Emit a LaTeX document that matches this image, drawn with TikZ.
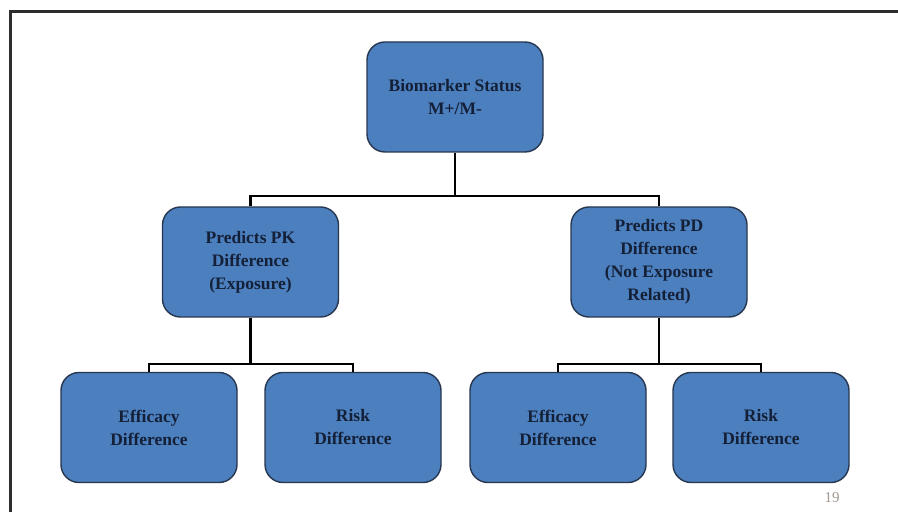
\documentclass[tikz,border=0pt]{standalone}
\usepackage{fontspec}
\setmainfont{Liberation Serif}
\usetikzlibrary{calc}
\definecolor{boxfill}{RGB}{76,127,190}
\definecolor{boxline}{RGB}{40,55,80}
\definecolor{boxtext}{RGB}{20,32,55}
\definecolor{framegray}{RGB}{45,45,45}
\definecolor{pagegray}{RGB}{160,152,145}
\def\BoxWidth{176}
\def\BoxHeight{110}
\def\TopRow{415}
\def\MidRow{250}
\def\LowRow{84.5}
\def\Drop{43}

\begin{document}
\begin{tikzpicture}[x=1pt,y=1pt,
    statbox/.style={draw=boxline, line width=1.4pt, fill=boxfill,
      rounded corners=18pt, minimum width=\BoxWidth pt, minimum height=\BoxHeight pt,
      align=center, text=boxtext, font=\bfseries\fontsize{17.5}{23}\selectfont},
    branch/.style={line width=2.2pt, black}]
  \useasboundingbox (0,0) rectangle (898,512);
  \fill [white] (0,0) rectangle (898,512);
  % frame
  \coordinate (frameB) at (10,0);
  \coordinate (frameC) at (10,500);
  \coordinate (frameR) at (898,500);
  \draw [line width=3pt, framegray] (frameB) -- (frameC) -- (frameR);
  % boxes
  \node[statbox] (status) at (455,\TopRow) {Biomarker Status\\M+/M-};
  \node[statbox] (pk) at (250.5,\MidRow) {Predicts PK\\Difference\\(Exposure)};
  \node[statbox] (pd) at (659,\MidRow) {Predicts PD\\Difference\\(Not Exposure\\Related)};
  \node[statbox] (pkeff) at (149,\LowRow) {Efficacy\\Difference};
  \node[statbox] (pkrisk) at (353,\LowRow) {Risk\\Difference};
  \node[statbox] (pdeff) at (558,\LowRow) {Efficacy\\Difference};
  \node[statbox] (pdrisk) at (761,\LowRow) {Risk\\Difference};
  % branches
  \coordinate (statussplit) at ($(status.south)+(0,-\Drop)$);
  \draw [branch] (status.south) -- (statussplit) -| (pk.north);
  \draw [branch] (statussplit) -| (pd.north);
  \foreach \parent/\kidA/\kidB in {pk/pkeff/pkrisk, pd/pdeff/pdrisk}
    {
      \coordinate (\parent split) at ($(\parent.south)+(0,-46)$);
      \draw [branch] (\parent.south) -- (\parent split) -| (\kidA.north);
      \draw [branch] (\parent split) -| (\kidB.north);
    }
  % page number
  \node[text=pagegray, font=\fontsize{15}{17}\selectfont] (pagenum) at (832,14) {19};
\end{tikzpicture}
\end{document}
